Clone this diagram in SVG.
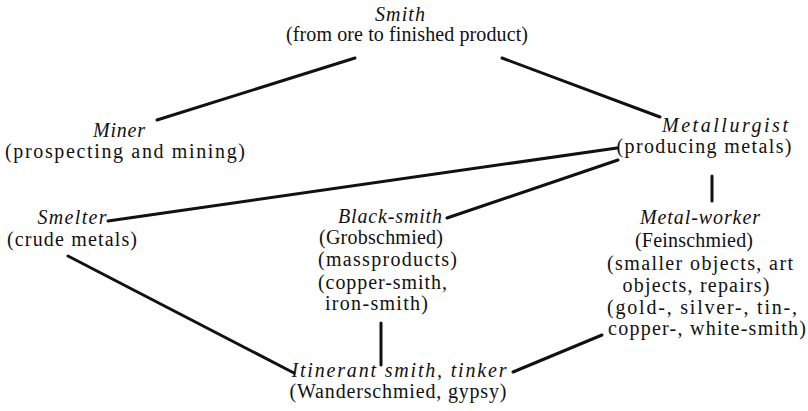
<svg xmlns="http://www.w3.org/2000/svg" width="808" height="411" viewBox="0 0 808 411">
<style>
text{font-family:"Liberation Serif","DejaVu Serif",serif;font-size:20px;fill:#111;text-anchor:middle}
.t{font-style:italic}
.l{text-anchor:start}
#connectors line{stroke:#111;stroke-width:3;stroke-linecap:round}
</style>
<rect width="808" height="411" fill="#fff"/>
<g id="connectors">
<line x1="355" y1="58" x2="157" y2="120"/>
<line x1="502" y1="58" x2="660" y2="117"/>
<line x1="108" y1="221" x2="617" y2="148"/>
<line x1="447" y1="218" x2="618" y2="160"/>
<line x1="712" y1="176" x2="712" y2="201"/>
<line x1="68" y1="256" x2="294" y2="373"/>
<line x1="381" y1="323" x2="381" y2="365"/>
<line x1="513" y1="372" x2="602" y2="335"/>
</g>
<g id="smith">
<text class="t" x="400" y="21" textLength="50" lengthAdjust="spacing">Smith</text>
<text x="407" y="41" textLength="242" lengthAdjust="spacing">(from ore to finished product)</text>
</g>
<g id="miner">
<text class="t" x="119" y="137" textLength="52" lengthAdjust="spacing">Miner</text>
<text x="125" y="158" textLength="240" lengthAdjust="spacing">(prospecting and mining)</text>
</g>
<g id="metallurgist">
<text class="t" x="725" y="132" textLength="126" lengthAdjust="spacing">Metallurgist</text>
<text x="704" y="153" textLength="175" lengthAdjust="spacing">(producing metals)</text>
</g>
<g id="smelter">
<text class="t" x="72" y="224" textLength="69" lengthAdjust="spacing">Smelter</text>
<text x="72" y="246" textLength="130" lengthAdjust="spacing">(crude metals)</text>
</g>
<g id="blacksmith">
<text class="t l" x="338" y="223" textLength="104" lengthAdjust="spacing">Black-smith</text>
<text class="l" x="319" y="244" textLength="124" lengthAdjust="spacing">(Grobschmied)</text>
<text class="l" x="318" y="266" textLength="139" lengthAdjust="spacing">(massproducts)</text>
<text class="l" x="318" y="289" textLength="129" lengthAdjust="spacing">(copper-smith,</text>
<text class="l" x="325" y="310" textLength="103" lengthAdjust="spacing">iron-smith)</text>
</g>
<g id="metalworker">
<text class="t" x="700" y="224" textLength="120" lengthAdjust="spacing">Metal-worker</text>
<text x="694" y="247" textLength="118" lengthAdjust="spacing">(Feinschmied)</text>
<text x="700" y="270" textLength="186" lengthAdjust="spacing">(smaller objects, art</text>
<text x="696" y="292" textLength="147" lengthAdjust="spacing">objects, repairs)</text>
<text x="702" y="314" textLength="190" lengthAdjust="spacing">(gold-, silver-, tin-,</text>
<text x="707" y="335" textLength="198" lengthAdjust="spacing">copper-, white-smith)</text>
</g>
<g id="itinerant">
<text class="t" x="399" y="377" textLength="215" lengthAdjust="spacing">Itinerant smith, tinker</text>
<text x="398" y="398" textLength="217" lengthAdjust="spacing">(Wanderschmied, gypsy)</text>
</g>
</svg>
